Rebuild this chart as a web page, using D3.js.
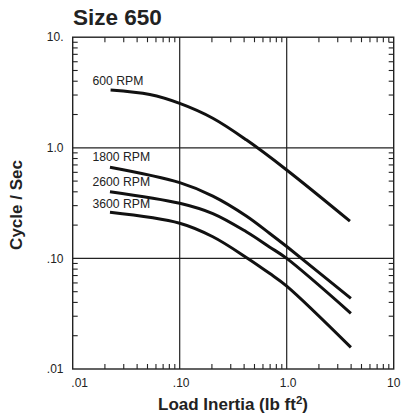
<!DOCTYPE html>
<html>
<head>
<meta charset="utf-8">
<script src="https://cdn.jsdelivr.net/npm/d3@7"></script>
<style>
  html, body { margin: 0; padding: 0; background: #fff; }
  svg { display: block; font-family: "Liberation Sans", Arial, Helvetica, sans-serif; }
</style>
</head>
<body>
<div id="chart"></div>
<script>
// load inertia (lb ft2) sample points
const inertia600 = [0.0226, 0.0525, 0.1, 0.204, 0.419, 1.0, 3.9];
const cycles600 = [3.33, 3.03, 2.52, 1.85, 1.18, 0.63, 0.217];

const inertia1800 = [0.0223, 0.1, 0.204, 0.419, 0.69, 1.0, 3.98];
const cycles1800 = [0.667, 0.484, 0.366, 0.242, 0.169, 0.128, 0.0435];

const inertia2600 = [0.0223, 0.1, 0.204, 0.419, 0.69, 1.0, 3.98];
const cycles2600 = [0.401, 0.315, 0.254, 0.174, 0.127, 0.1, 0.0319];

const inertia3600 = [0.0223, 0.1, 0.204, 0.433, 0.69, 1.0, 3.98];
const cycles3600 = [0.261, 0.208, 0.157, 0.1, 0.0733, 0.0562, 0.0157];

const seriesNames = ['600 RPM', '1800 RPM', '2600 RPM', '3600 RPM'];
const xTickValues = [0.01, 0.1, 1, 10];
const xTickLabels = ['.01', '.10', '1.0', '10'];
const yTickValues = [0.01, 0.1, 1, 10];
const yTickLabels = ['.01', '.10', '1.0', '10.'];

const width = 402;
const height = 415;
const plot = { left: 72.7, right: 393.7, top: 37.2, bottom: 369 };

const svg = d3.select('#chart')
  .append('svg')
  .attr('width', width)
  .attr('height', height);

const x = d3.scaleLog().domain([0.01, 10]).range([plot.left, plot.right]);
const y = d3.scaleLog().domain([0.01, 10]).range([plot.bottom, plot.top]);
const plotW = plot.right - plot.left;
const plotH = plot.bottom - plot.top;

// minor ticks 2..9 in each decade, pointing inward on all four sides
const minor = [];
[0.01, 0.1, 1].forEach(d => { for (let k = 2; k <= 9; k++) minor.push(d * k); });
const tickLen = 5;

const ticks = svg.append('g').attr('stroke', '#222').attr('stroke-width', 1.1);
ticks.selectAll('.tb').data(minor).enter().append('line')
  .attr('x1', d => x(d)).attr('x2', d => x(d))
  .attr('y1', plot.bottom).attr('y2', plot.bottom - tickLen);
ticks.selectAll('.tt').data(minor).enter().append('line')
  .attr('x1', d => x(d)).attr('x2', d => x(d))
  .attr('y1', plot.top).attr('y2', plot.top + tickLen);
ticks.selectAll('.tl').data(minor).enter().append('line')
  .attr('y1', d => y(d)).attr('y2', d => y(d))
  .attr('x1', plot.left).attr('x2', plot.left + tickLen);
ticks.selectAll('.tr').data(minor).enter().append('line')
  .attr('y1', d => y(d)).attr('y2', d => y(d))
  .attr('x1', plot.right).attr('x2', plot.right - tickLen);

// decade grid lines
const grid = svg.append('g').attr('stroke', '#222').attr('stroke-width', 1.2);
grid.selectAll('.gx').data([0.1, 1]).enter().append('line')
  .attr('x1', d => x(d)).attr('x2', d => x(d))
  .attr('y1', plot.top).attr('y2', plot.bottom);
grid.selectAll('.gy').data([0.1, 1]).enter().append('line')
  .attr('y1', d => y(d)).attr('y2', d => y(d))
  .attr('x1', plot.left).attr('x2', plot.right);

// frame
svg.append('rect')
  .attr('x', plot.left).attr('y', plot.top)
  .attr('width', plotW).attr('height', plotH)
  .attr('fill', 'none').attr('stroke', '#222').attr('stroke-width', 1.4);

// curves
const series = [
  { name: seriesNames[0], xs: inertia600, ys: cycles600 },
  { name: seriesNames[1], xs: inertia1800, ys: cycles1800 },
  { name: seriesNames[2], xs: inertia2600, ys: cycles2600 },
  { name: seriesNames[3], xs: inertia3600, ys: cycles3600 },
];

const line = d3.line()
  .x(d => x(d[0]))
  .y(d => y(d[1]))
  .curve(d3.curveCatmullRom.alpha(0.5));

svg.append('g').selectAll('path')
  .data(series)
  .enter().append('path')
  .attr('d', s => line(s.xs.map((v, i) => [v, s.ys[i]])))
  .attr('fill', 'none')
  .attr('stroke', '#111')
  .attr('stroke-width', 3);

// curve labels, placed just above each curve start
const labelBaselines = [85, 161, 185.7, 208.3];
svg.append('g').selectAll('text')
  .data(series)
  .enter().append('text')
  .attr('x', 92.5)
  .attr('y', (s, i) => labelBaselines[i])
  .attr('font-size', 12.2)
  .attr('fill', '#222')
  .text(s => s.name);

// x tick labels
const xLabelShift = [7, 1.5, 1.5, 0];
svg.append('g').selectAll('text')
  .data(xTickValues)
  .enter().append('text')
  .attr('x', (d, i) => x(d) + xLabelShift[i])
  .attr('y', 386.5)
  .attr('text-anchor', 'middle')
  .attr('font-size', 12)
  .attr('fill', '#222')
  .text((d, i) => xTickLabels[i]);

// y tick labels
svg.append('g').selectAll('text')
  .data(yTickValues)
  .enter().append('text')
  .attr('x', 63.5)
  .attr('y', d => y(d))
  .attr('dy', '0.35em')
  .attr('text-anchor', 'end')
  .attr('font-size', 12)
  .attr('fill', '#222')
  .text((d, i) => yTickLabels[i]);

// title
svg.append('text')
  .attr('x', 73)
  .attr('y', 25)
  .attr('font-size', 22.5)
  .attr('font-weight', 'bold')
  .attr('fill', '#222')
  .text('Size 650');

// axis titles
const xTitle = svg.append('text')
  .attr('x', 233)
  .attr('y', 410)
  .attr('text-anchor', 'middle')
  .attr('font-size', 17)
  .attr('font-weight', 'bold')
  .attr('fill', '#222');
xTitle.append('tspan').text('Load Inertia (lb ft');
xTitle.append('tspan').attr('dy', -6).attr('font-size', 11.5).text('2');
xTitle.append('tspan').attr('dy', 6).text(')');

svg.append('text')
  .attr('transform', 'translate(22,205) rotate(-90)')
  .attr('text-anchor', 'middle')
  .attr('font-size', 17)
  .attr('font-weight', 'bold')
  .attr('fill', '#222')
  .text('Cycle / Sec');
</script>
</body>
</html>
